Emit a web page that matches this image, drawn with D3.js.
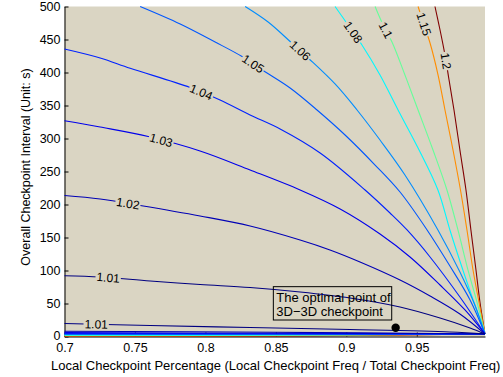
<!DOCTYPE html>
<html>
<head>
<meta charset="utf-8">
<script src="https://cdn.jsdelivr.net/npm/d3@7/dist/d3.min.js"></script>
<style>
  body { margin: 0; background: #fff; }
  text { font-family: "Liberation Sans", Arial, sans-serif; }
</style>
</head>
<body>
<svg id="chart" width="503" height="377"></svg>
<script>
// contour levels (colour comes from jet over this range)
const levels = [1.01, 1.02, 1.03, 1.04, 1.05, 1.06, 1.08, 1.1, 1.15, 1.2];

// upper branches of each contour, [local %, interval s]
const c101 = [[0.700, 92.1], [0.7253, 90.2], [0.7608, 84.1], [0.7962, 78.8], [0.8317, 74.2], [0.8672, 67.4],
              [0.9026, 58.3], [0.9381, 44.7], [0.9665, 28.0], [0.9878, 12.9], [0.9984, 3.8]];
const c101low = [[0.700, 19.7], [0.7608, 16.7], [0.8317, 13.6], [0.9026, 10.6], [0.9735, 6.8], [0.9984, 3.8]];
const c102 = [[0.700, 213.6], [0.7253, 208.3], [0.7537, 198.5], [0.7962, 182.6], [0.8317, 167.4], [0.8672, 146.2],
              [0.8884, 131.1], [0.9097, 112.9], [0.9381, 85.6], [0.9594, 61.4], [0.9806, 34.1], [0.9984, 3.8]];
const c103 = [[0.700, 327.0], [0.7253, 317.4], [0.7594, 303.0], [0.7962, 281.1], [0.8317, 252.3], [0.8672, 222.0],
              [0.8956, 193.2], [0.9239, 155.3], [0.9452, 120.5], [0.9665, 78.0], [0.9842, 40.2], [0.9984, 3.8]];
const c104 = [[0.700, 435.6], [0.7253, 422.0], [0.7466, 406.4], [0.7891, 377.3], [0.8104, 358.3], [0.8317, 335.6],
              [0.8530, 314.4], [0.8814, 278.0], [0.9133, 222.0], [0.9310, 187.1], [0.9431, 161.4], [0.9594, 120.5],
              [0.9806, 59.8], [0.9984, 3.8]];
const c105 = [[0.7537, 500], [0.7821, 473.5], [0.8069, 446.2], [0.8260, 424.2], [0.8423, 401.2], [0.8601, 376.5],
              [0.8792, 343.2], [0.8991, 305.3], [0.9204, 259.8], [0.9381, 218.9], [0.9573, 161.4], [0.9735, 106.8],
              [0.9878, 55.3], [0.9984, 3.8]];
const c106 = [[0.8282, 500], [0.8445, 476.5], [0.8601, 447.0], [0.8729, 422.0], [0.8920, 382.6], [0.9076, 343.2],
              [0.9239, 297.7], [0.9416, 244.7], [0.9650, 161.4], [0.9806, 97.7], [0.9912, 47.7], [0.9984, 3.8]];
const c108 = [[0.8920, 500], [0.9012, 472.0], [0.9111, 441.7], [0.9239, 396.2], [0.9367, 343.2], [0.9509, 285.6],
              [0.9650, 222.0], [0.9735, 161.4], [0.9827, 100.8], [0.9905, 52.3], [0.9984, 3.8]];
const c110 = [[0.9204, 500], [0.9261, 472.0], [0.9324, 446.2], [0.9416, 396.2], [0.9509, 343.2], [0.9615, 282.6],
              [0.9714, 222.0], [0.9792, 161.4], [0.9863, 100.8], [0.9927, 52.3], [0.9984, 3.8]];
const c115 = [[0.9509, 500], [0.9559, 467.4], [0.9594, 444.7], [0.9651, 396.2], [0.9700, 343.2], [0.9757, 282.6],
              [0.9810, 222.0], [0.9856, 161.4], [0.9899, 100.8], [0.9941, 52.3], [0.9984, 3.8]];
const c120 = [[0.9629, 500], [0.9665, 464.4], [0.9700, 426.5], [0.9729, 388.6], [0.9764, 343.2], [0.9806, 282.6],
              [0.9849, 222.0], [0.9884, 161.4], [0.9920, 100.8], [0.9948, 52.3], [0.9984, 3.8]];

// lower branches of 1.02 .. 1.2, squeezed against the x axis
const lowerX = [0.7, 0.85, 0.9984];
const lowerY = [[8.0, 6.5, 3.8], [5.8, 5.0, 3.8], [4.5, 4.2, 3.8], [3.6, 3.5, 3.8], [3.0, 3.0, 3.8],
                [2.2, 2.3, 3.8], [1.7, 1.9, 3.8], [1.0, 1.3, 3.8], [0.3, 0.6, 3.8]];

// where the inline labels sit (x position along each contour)
const labelX = [0.731, 0.745, 0.7686, 0.797, 0.8338, 0.8672, 0.9048, 0.928, 0.955, 0.9707];
const labelXLow = 0.7225;

const xTicks = [0.7, 0.75, 0.8, 0.85, 0.9, 0.95];
const xTickLabels = ["0.7", "0.75", "0.8", "0.85", "0.9", "0.95"];
const yTicks = [0, 50, 100, 150, 200, 250, 300, 350, 400, 450, 500];

const optimalPoint = [0.935, 13.3];
const noteLines = ["The optimal point of", "3D\u22123D checkpoint"];

// ---- layout
const svg = d3.select("#chart");
const plotL = 64.5, plotR = 485, plotT = 6.5, plotB = 336.5;
const bg = "#dad5c3";

const x = d3.scaleLinear().domain([0.7, 0.9984]).range([plotL, plotR]);
const y = d3.scaleLinear().domain([0, 500]).range([plotB, plotT]);

const jet = t => {
  const c = v => Math.round(255 * Math.max(0, Math.min(1, v)));
  const r = Math.min(4 * t - 1.5, -4 * t + 4.5);
  const g = Math.min(4 * t - 0.5, -4 * t + 3.5);
  const b = Math.min(4 * t + 0.5, -4 * t + 2.5);
  return `rgb(${c(r)},${c(g)},${c(b)})`;
};
const color = L => jet((L - levels[0]) / (levels[levels.length - 1] - levels[0]));

// plot background
svg.append("rect")
  .attr("x", plotL).attr("y", plotT)
  .attr("width", plotR - plotL).attr("height", plotB - plotT)
  .attr("fill", bg);

// axes (drawn under the contours, like MATLAB's default layer)
const xAxis = d3.axisBottom(x)
  .tickValues(xTicks)
  .tickFormat((d, i) => xTickLabels[i])
  .tickSizeInner(-4).tickSizeOuter(0).tickPadding(6.5);
const yAxis = d3.axisLeft(y)
  .tickValues(yTicks)
  .tickSizeInner(-4).tickSizeOuter(0).tickPadding(4);

const gx = svg.append("g").attr("transform", `translate(0,${plotB})`).call(xAxis);
const gy = svg.append("g").attr("transform", `translate(${plotL},0)`).call(yAxis);
[gx, gy].forEach(g => {
  g.selectAll("text").attr("font-size", 12.5).attr("fill", "#000")
    .attr("font-family", '"Liberation Sans", Arial, sans-serif');
  g.selectAll("line,path").attr("stroke", "#000");
});
gy.selectAll(".tick").filter(d => d === 0).select("text").attr("dy", "0.2em");

// contour lines
const line = d3.line().x(d => x(d[0])).y(d => y(d[1])).curve(d3.curveCatmullRom.alpha(0.5));

const upper = [c101, c102, c103, c104, c105, c106, c108, c110, c115, c120];
const curves = [];
upper.forEach((pts, i) => curves.push({ level: levels[i], pts, lx: labelX[i] }));
curves.push({ level: 1.01, pts: c101low, lx: labelXLow });
lowerY.forEach((ys, i) => curves.push({ level: levels[i + 1], pts: lowerX.map((v, j) => [v, ys[j]]) }));

const plot = svg.append("g");
plot.selectAll("path.contour")
  .data(curves.slice().reverse())
  .join("path")
  .attr("class", "contour")
  .attr("d", d => line(d.pts))
  .attr("fill", "none")
  .attr("stroke", d => color(d.level))
  .attr("stroke-width", 1.1);

// inline labels with a gap cut in the line
const fmt = L => String(+L.toFixed(2));
curves.filter(d => d.lx !== undefined).forEach(d => {
  const px = d.pts.map(p => [x(p[0]), y(p[1])]);
  const tx = x(d.lx);
  let k = 0;
  while (k < px.length - 2 && px[k + 1][0] < tx) k++;
  const a = px[k], b = px[k + 1];
  const f = (tx - a[0]) / (b[0] - a[0]);
  const ty = a[1] + f * (b[1] - a[1]);
  const ang = Math.atan2(b[1] - a[1], b[0] - a[0]) * 180 / Math.PI;

  const g = plot.append("g").attr("transform", `translate(${tx},${ty}) rotate(${ang})`);
  const gap = g.append("rect").attr("fill", bg);
  const t = g.append("text")
    .attr("text-anchor", "middle")
    .attr("dy", "0.35em")
    .attr("font-size", 12)
    .attr("fill", "#000")
    .text(fmt(d.level));
  const w = t.node().getComputedTextLength() + 2;
  gap.attr("x", -w / 2).attr("y", -4).attr("width", w).attr("height", 8);
});

// annotation box and optimal point
const boxL = x(0.8482), boxR = x(0.9322), boxT = y(75.5), boxB = y(25);
svg.append("rect")
  .attr("x", boxL).attr("y", boxT)
  .attr("width", boxR - boxL).attr("height", boxB - boxT)
  .attr("fill", "none").attr("stroke", "#000").attr("stroke-width", 1);
svg.selectAll("text.note")
  .data(noteLines)
  .join("text")
  .attr("class", "note")
  .attr("x", boxL + 3)
  .attr("y", (d, i) => boxT + 15 + i * 14.5)
  .attr("font-size", 13)
  .attr("fill", "#000")
  .text(d => d);

svg.append("circle")
  .attr("cx", x(optimalPoint[0])).attr("cy", y(optimalPoint[1]))
  .attr("r", 4.2).attr("fill", "#000");

// axis titles
svg.append("text")
  .attr("x", 275.7).attr("y", 369.5)
  .attr("text-anchor", "middle").attr("font-size", 13).attr("fill", "#000")
  .text("Local Checkpoint Percentage (Local Checkpoint Freq / Total Checkpoint Freq)");
svg.append("text")
  .attr("transform", "translate(30,167) rotate(-90)")
  .attr("text-anchor", "middle").attr("font-size", 12.5).attr("fill", "#000")
  .text("Overall Checkpoint Interval (Unit: s)");
</script>
</body>
</html>
